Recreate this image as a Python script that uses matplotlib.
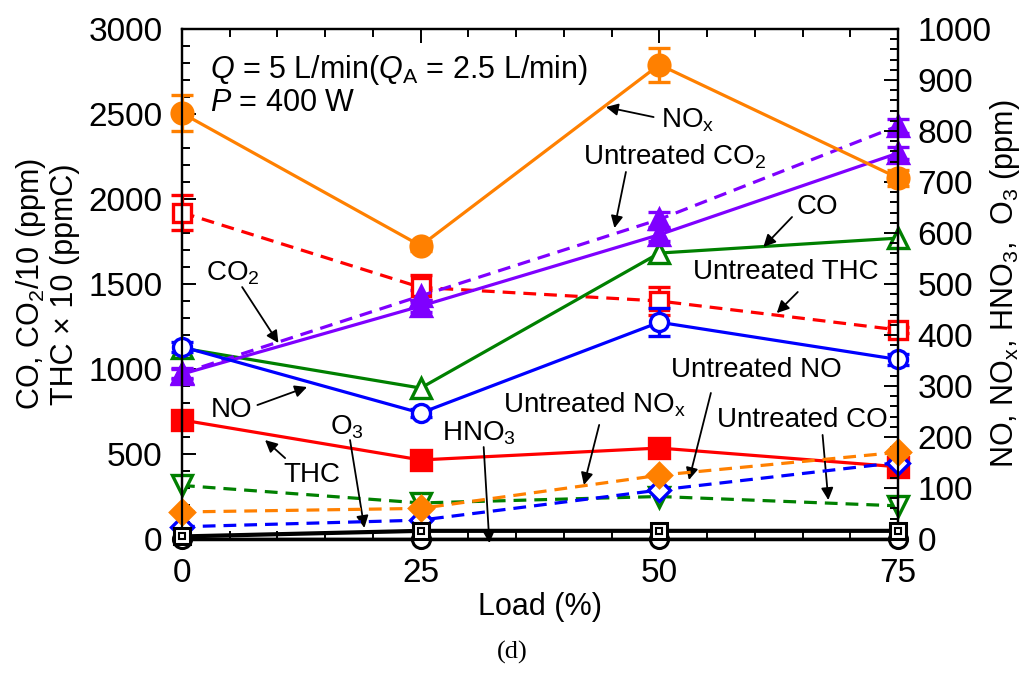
import numpy as np
import matplotlib
matplotlib.use("Agg")
import matplotlib.pyplot as plt

plt.rcParams["font.family"] = ["Liberation Sans", "DejaVu Sans"]
plt.rcParams["mathtext.fontset"] = "custom"
plt.rcParams["mathtext.rm"] = "Liberation Sans"
plt.rcParams["mathtext.it"] = "Liberation Sans:italic"
plt.rcParams["mathtext.default"] = "regular"

load = [0, 25, 50, 75]

# left axis: CO, CO2/10 (ppm), THC x 10 (ppmC)
co = [1123, 888, 1682, 1770]
co2 = [970, 1370, 1790, 2270]
co2_err = [30, 35, 35, 35]
thc = [700, 465, 535, 425]
thc_err = [25, 20, 40, 30]
untr_co2 = [975, 1430, 1880, 2430]
untr_co2_err = [30, 35, 45, 40]
untr_thc = [1920, 1480, 1400, 1230]
untr_thc_err = [105, 75, 85, 20]
untr_co = [315, 212, 250, 195]

# right axis: NO, NOx, HNO3, O3 (ppm)
nox = [835, 575, 930, 708]
nox_err = [35, 10, 33, 15]
no = [377, 247, 425, 352]
no_err = [10, 8, 27, 10]
untr_nox = [53, 60, 125, 170]
untr_no = [24, 37, 96, 150]
o3 = [5, 16, 16, 16]
hno3 = [0, 0, 0, 0]

ORANGE, PURPLE, RED = "#ff8000", "#7f00ff", "#ff0000"
GREEN, BLUE = "#008000", "#0000ff"

fig = plt.figure(figsize=(10.28, 6.75), dpi=100)
ax = fig.add_axes([182 / 1028, 1 - 539 / 675, 716 / 1028, 510 / 675])
ax2 = ax.twinx()

LW = 2.3
common = dict(lw=LW, mew=2.4, clip_on=False, capsize=8, elinewidth=2.4, capthick=2.4)

# left-axis series
ax.errorbar(load, untr_thc, yerr=untr_thc_err, color=RED, ls="--", marker="s", ms=13,
            mfc="white", mec=RED, dashes=(4, 2.5), **common)
ax.errorbar(load, untr_co, color=GREEN, ls="--", marker="v", ms=14, mfc="white",
            mec=GREEN, dashes=(4, 2.5), **common)
ax.errorbar(load, co, color=GREEN, marker="^", ms=14, mfc="white", mec=GREEN, **common)
ax.errorbar(load, thc, yerr=thc_err, color=RED, marker="s", ms=14, mfc=RED, mec=RED, **common)
ax.errorbar(load, untr_co2, yerr=untr_co2_err, color=PURPLE, ls="--", marker="^", ms=14,
            mfc=PURPLE, mec=PURPLE, dashes=(4, 2.5), **common)
ax.errorbar(load, co2, yerr=co2_err, color=PURPLE, marker="^", ms=14, mfc=PURPLE,
            mec=PURPLE, **common)

# right-axis series
ax2.plot(load, hno3, color="k", lw=2.5, marker="o", ms=13, mfc="white", mec="k",
         mew=2.2, clip_on=False, zorder=3)
ax2.plot(load, o3, color="k", lw=3, marker="s", ms=12, mfc="white", mec="k",
         mew=2.2, clip_on=False, zorder=3)
ax2.plot(load, o3, ls="none", marker="s", ms=4, mfc="white", mec="k", mew=1.5,
         clip_on=False, zorder=4)
ax2.errorbar(load, untr_no, color=BLUE, ls="--", marker="D", ms=11, mfc="white",
             mec=BLUE, dashes=(4, 2.5), **common)
ax2.errorbar(load, untr_nox, color=ORANGE, ls="--", marker="D", ms=12, mfc=ORANGE,
             mec=ORANGE, dashes=(4, 2.5), **common)
ax2.errorbar(load, no, yerr=no_err, color=BLUE, marker="o", ms=13, mfc="white",
             mec=BLUE, **common)
ax2.errorbar(load, nox, yerr=nox_err, color=ORANGE, marker="o", ms=15, mfc=ORANGE,
             mec=ORANGE, **common)

ax.set_xlim(0, 75)
ax.set_ylim(0, 3000)
ax2.set_ylim(0, 1000)
ax.set_xticks([0, 25, 50, 75])
ax.set_xticks(np.arange(0, 76, 5), minor=True)
ax.set_yticks(np.arange(0, 3001, 500))
ax.set_yticks(np.arange(0, 3001, 100), minor=True)
ax2.set_yticks(np.arange(0, 1001, 100))
ax2.set_yticks(np.arange(0, 1001, 20), minor=True)

for a in (ax, ax2):
    a.tick_params(which="both", direction="in", width=1.4, labelsize=24)
    a.tick_params(which="major", length=10)
    a.tick_params(which="minor", length=6)
    for s in a.spines.values():
        s.set_linewidth(1.6)
ax.tick_params(which="both", top=True, right=False)
ax.tick_params(axis="y", pad=14)
ax.tick_params(axis="x", pad=14)
ax2.tick_params(which="both", left=False, pad=14)

ax.set_xlabel("Load (%)", fontsize=22, labelpad=2)
ax.set_ylabel("CO, CO$_2$/10 (ppm)\nTHC × 10 (ppmC)", fontsize=22, linespacing=1.1)
ax.yaxis.set_label_coords(-0.142, 0.5)
ax2.set_ylabel("NO, NO$_x$, HNO$_3$,  O$_3$ (ppm)", fontsize=22, rotation=90)
ax2.yaxis.set_label_coords(1.125, 0.5)

ax.text(0.039, 0.92, "$\\mathit{Q}$ = 5 L/min($\\mathit{Q}_\\mathrm{A}$ = 2.5 L/min)",
        transform=ax.transAxes, fontsize=22, va="center")
ax.text(0.039, 0.855, "$\\mathit{P}$ = 400 W", transform=ax.transAxes, fontsize=22,
        va="center")

# labels with leader arrows (left-axis data units)
notes = [
    ("NO$_x$", (50.2, 2465), (49.4, 2482), (44.4, 2541), "left"),
    ("Untreated CO$_2$", (51.6, 2247), (46.5, 2159), (45.3, 1829), "center"),
    ("CO", (66.6, 1953), (63.9, 1894), (60.9, 1718), "center"),
    ("Untreated THC", (63.2, 1570), (64.5, 1453), (62.3, 1329), "center"),
    ("CO$_2$", (5.3, 1565), (6.3, 1482), (10.1, 1153), "center"),
    ("NO", (5.2, 759), (7.9, 788), (13.1, 894), "center"),
    ("THC", (13.6, 376), (10.8, 476), (8.7, 582), "center"),
    ("O$_3$", (17.3, 659), (17.6, 582), (19.1, 65), "center"),
    ("HNO$_3$", (31.1, 623), (31.6, 541), (32.2, -24), "center"),
    ("Untreated NO$_x$", (43.2, 788), (43.7, 671), (42.1, 318), "center"),
    ("Untreated NO", (60.2, 994), (55.4, 859), (53.1, 347), "center"),
    ("Untreated CO", (65.0, 700), (67.1, 612), (67.7, 229), "center"),
]
for label, txy, tail, tip, ha in notes:
    ax.text(*txy, label, fontsize=20, ha=ha, va="center", zorder=10)
    ax.annotate("", xy=tip, xytext=tail, annotation_clip=False, zorder=10,
                arrowprops=dict(arrowstyle="-|>", color="k", lw=1.3,
                                mutation_scale=18, shrinkA=0, shrinkB=0))

fig.text(512 / 1028, 1 - 652 / 675, "(d)", fontsize=19, ha="center", va="center",
         family=["Liberation Serif", "DejaVu Serif"])

fig.savefig("out.png", dpi=100)
